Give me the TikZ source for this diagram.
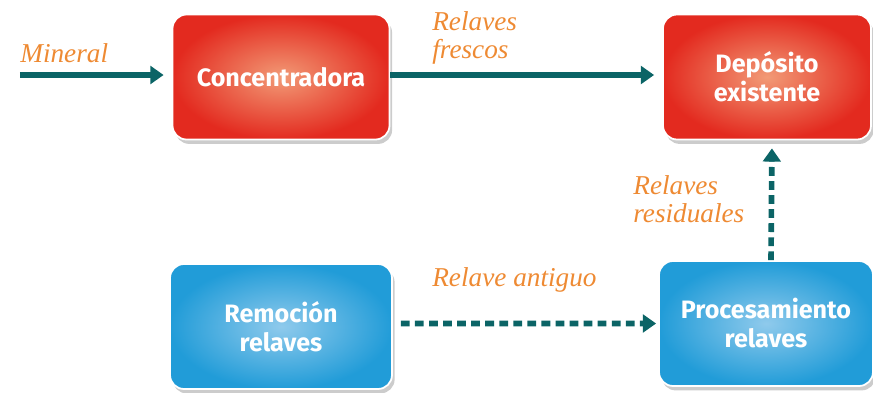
\documentclass[tikz,border=0pt]{standalone}
\usepackage{fontspec}
\setmainfont{Liberation Serif}
\setsansfont{Fira Sans}
\usetikzlibrary{arrows.meta,shadows}
\definecolor{flecha}{HTML}{0B6466}
\definecolor{texto}{HTML}{EE8A33}
\definecolor{rojo}{HTML}{E32A1F}
\definecolor{rojoclaro}{HTML}{F29A76}
\definecolor{azul}{HTML}{219CD8}
\definecolor{azulclaro}{HTML}{8FCAEC}
\begin{document}
\begin{tikzpicture}[
  caja/.style={rounded corners=8pt, draw=white, line width=1pt, minimum height=2.5cm,
    align=center, text=white, font=\sffamily\bfseries\fontsize{14.3}{16.5}\selectfont,
    drop shadow={shadow xshift=1.5pt, shadow yshift=-2.5pt, opacity=0.4}},
  cajaroja/.style={caja, inner color=rojoclaro, outer color=rojo},
  cajaazul/.style={caja, inner color=azulclaro, outer color=azul},
  flujo/.style={draw=flecha, line width=3.2pt, -{Triangle[length=7.5pt,width=10pt]}},
  flujod/.style={flujo, dash pattern=on 5pt off 3pt},
  etiqueta/.style={text=texto, font=\itshape\fontsize{15.5}{16}\selectfont, align=left,
    anchor=north west, inner sep=0pt}
]
\useasboundingbox (0,0) rectangle (17.46,7.84);
\node [cajaroja, minimum width=4.34cm] (conc) at (5.62,6.30) {Concentradora};
\node [cajaroja, minimum width=4.16cm] (dep) at (15.34,6.30) {Depósito\\existente};
\node [cajaazul, minimum width=4.44cm] (rem) at (5.62,1.31) {Remoción\\relaves};
\node [cajaazul, minimum width=4.28cm] (proc) at (15.32,1.37) {Procesamiento\\relaves};
% flechas
\coordinate (mineral) at (0.4,6.34);
\draw [flujo, shorten >=0.16cm] (mineral) -- (mineral -| conc.west);
\draw [flujo, shorten >=0.16cm] (mineral -| conc.east) -- (mineral -| dep.west);
\draw [flujod, shorten <=0.16cm, shorten >=0.04cm] ([yshift=0.6mm]rem.east) -- (proc.west);
\draw [flujod, shorten >=0.16cm] ([xshift=1mm]proc.north) -- ([xshift=1mm]dep.south);
% textos
\node [etiqueta] (tmin) at (0.4,6.98) {Mineral};
\node [etiqueta] (tfres) at (8.64,7.62) {Relaves\\frescos};
\node [etiqueta] (tres) at (12.66,4.34) {Relaves\\residuales};
\node [etiqueta] (tant) at (8.64,2.5) {Relave antiguo};
\end{tikzpicture}
\end{document}
